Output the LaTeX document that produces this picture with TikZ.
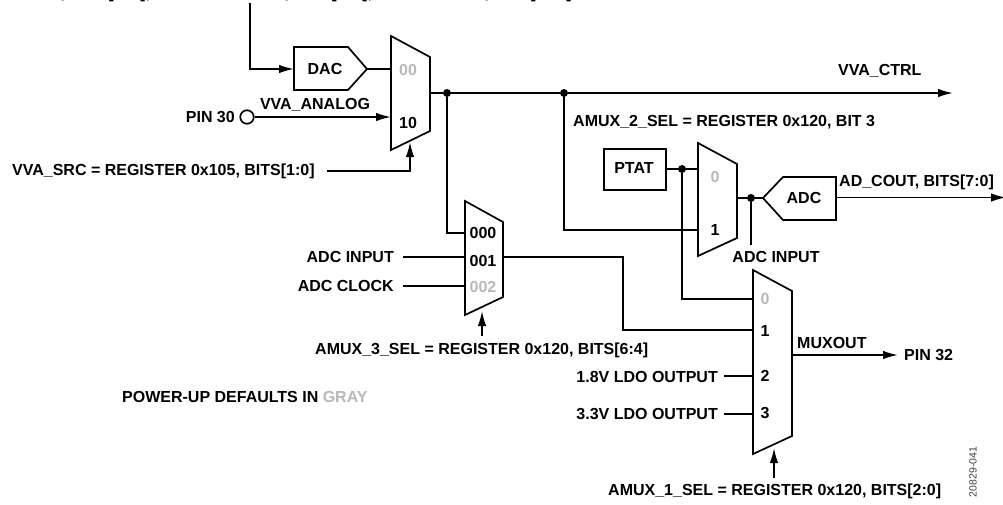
\documentclass[tikz,border=0pt]{standalone}
\usepackage{fontspec}
\setmainfont{Liberation Sans}
\usetikzlibrary{arrows.meta}
\definecolor{dg}{gray}{0.72}
\tikzset{
 x=1pt,y=-1pt,
 wire/.style={line width=1.7pt,line join=miter},
 arr/.style={wire,-{Latex[length=15pt,width=8.5pt]}},
 blk/.style={line width=1.7pt,line join=miter},
 lab/.style={font=\fontsize{16}{18}\selectfont\bfseries,inner sep=0pt,text=black},
 gr/.style={lab,text=dg},
 cut/.style={lab,anchor=base},
 dotn/.style={circle,fill=black,inner sep=0pt,minimum size=8pt},
}
\begin{document}
\begin{tikzpicture}
\useasboundingbox (0,0) rectangle (1003,504);
% top line of text, of which the page only keeps the parts below the baseline
\node[cut] (q1) at (63,-1.5) {,};
\node[cut] (q2) at (111,-1.5) {[};
\node[cut] (q3) at (143,-1.5) {]};
\node[cut] (q4) at (148,-1.5) {,};
\node[cut] (q5) at (287,-1.5) {,};
\node[cut] (q6) at (334,-1.5) {[};
\node[cut] (q7) at (365,-1.5) {]};
\node[cut] (q8) at (370,-1.5) {,};
\node[cut] (q9) at (427,-1.5) {\_};
\node[cut] (q10) at (487,-1.5) {,};
\node[cut] (q11) at (533,-1.5) {[};
\node[cut] (q12) at (569,-1.5) {]};
% muxes
\draw[blk] (391,36) -- (430,57) -- (430,131) -- (391,150) -- cycle;
\draw[blk] (465,201) -- (503,222) -- (503,297) -- (465,315) -- cycle;
\draw[blk] (698,143) -- (737,164) -- (737,238) -- (698,256) -- cycle;
\draw[blk] (753,270) -- (792,291) -- (792,436) -- (753,454) -- cycle;
% blocks
\draw[blk] (294,47) -- (348,47) -- (367,69) -- (348,90) -- (294,90) -- cycle;
\draw[blk] (604,149) rectangle (666,190);
\draw[blk] (763,198) -- (783,177) -- (836,177) -- (836,220) -- (783,220) -- cycle;
\coordinate (dacin) at (294,69);
\coordinate (dacout) at (367,69);
\node[lab] (dac) at (325,69) {DAC};
\node[lab] (ptat) at (634,168) {PTAT};
\node[lab] (adc) at (804,198) {ADC};
% mux labels
\node[gr] (m00) at (408,70) {00};
\node[lab] (m10) at (408,123) {10};
\node[lab] (a000) at (483,233) {000};
\node[lab] (a001) at (483,261) {001};
\node[gr] (a002) at (483,287) {002};
\node[gr] (b0) at (715,177) {0};
\node[lab] (b1) at (715,230) {1};
\node[gr] (c0) at (765,299) {0};
\node[lab] (c1) at (765,331) {1};
\node[lab] (c2) at (765,376) {2};
\node[lab] (c3) at (765,413) {3};
% wires
\coordinate (t1) at (250,3);
\draw[arr] (t1) -- (250,69) -- (dacin);
\draw[wire] (dacout) -- (391,69);
\node[draw,circle,line width=1.7pt,inner sep=0pt,minimum size=13.5pt] (pin30) at (247,117) {};
\draw[arr] (pin30) -- (391,117);
\node[lab,anchor=east] (pin30t) at (235,117) {PIN 30};
\node[lab] (vvaa) at (315,105) {VVA\_ANALOG};
\node[lab,anchor=west] (vvas) at (12,171) {VVA\_SRC = REGISTER 0x105, BITS[1:0]};
\draw[arr] (327,171) -- (410,171) -- (410,142);
\node[dotn] (j1) at (447,93) {};
\node[dotn] (j2) at (564,93) {};
\draw[wire] (430,93) -- (j1) -- (j2);
\draw[arr] (j2) -- (953,93);
\node[lab,anchor=west] (vvac) at (838,71) {VVA\_CTRL};
\draw[wire] (j1) -- (447,233) -- (465,233);
\draw[wire] (j2) -- (564,230) -- (698,230);
\node[lab,anchor=west] (amux2) at (573,122) {AMUX\_2\_SEL = REGISTER 0x120, BIT 3};
\node[dotn] (j3) at (682,169) {};
\draw[wire] (666,169) -- (j3) -- (698,169);
\draw[wire] (j3) -- (682,299) -- (753,299);
\node[dotn] (j4) at (751,198) {};
\draw[wire] (737,198) -- (j4) -- (763,198);
\draw[wire] (j4) -- (751,245);
\node[lab] (adci) at (776,257) {ADC INPUT};
\draw[arr] (836,197.5) -- (1006,197.5);
\node[lab,anchor=west] (adcout) at (839,182) {AD\_COUT, BITS[7:0]};
\node[lab,anchor=east] (ai) at (394,257) {ADC INPUT};
\node[lab,anchor=east] (ac) at (394,286) {ADC CLOCK};
\draw[wire] (403,257) -- (465,257);
\draw[wire] (403,286) -- (465,286);
\draw[wire] (503,257) -- (623,257) -- (623,330) -- (753,330);
\draw[arr] (482,336) -- (482,311);
\node[lab,anchor=west] (amux3) at (315,350) {AMUX\_3\_SEL = REGISTER 0x120, BITS[6:4]};
\node[lab,anchor=east] (l18) at (718,377) {1.8V LDO OUTPUT};
\node[lab,anchor=east] (l33) at (718,414) {3.3V LDO OUTPUT};
\draw[wire] (724,376) -- (753,376);
\draw[wire] (724,414) -- (753,414);
\draw[arr] (792,355) -- (898,355);
\node[lab,anchor=west] (mo) at (797,343) {MUXOUT};
\node[lab,anchor=west] (p32) at (904,355) {PIN 32};
\draw[arr] (774,478) -- (774,448);
\node[lab,anchor=west] (amux1) at (608,491) {AMUX\_1\_SEL = REGISTER 0x120, BITS[2:0]};
\node[lab,anchor=west] (pu) at (122,397) {POWER-UP DEFAULTS IN \textcolor{dg}{GRAY}};
\node[font=\fontsize{10.5}{12}\selectfont,rotate=90,inner sep=0pt,text=black!75] (fig) at (973,472) {20829-041};
\end{tikzpicture}
\end{document}
